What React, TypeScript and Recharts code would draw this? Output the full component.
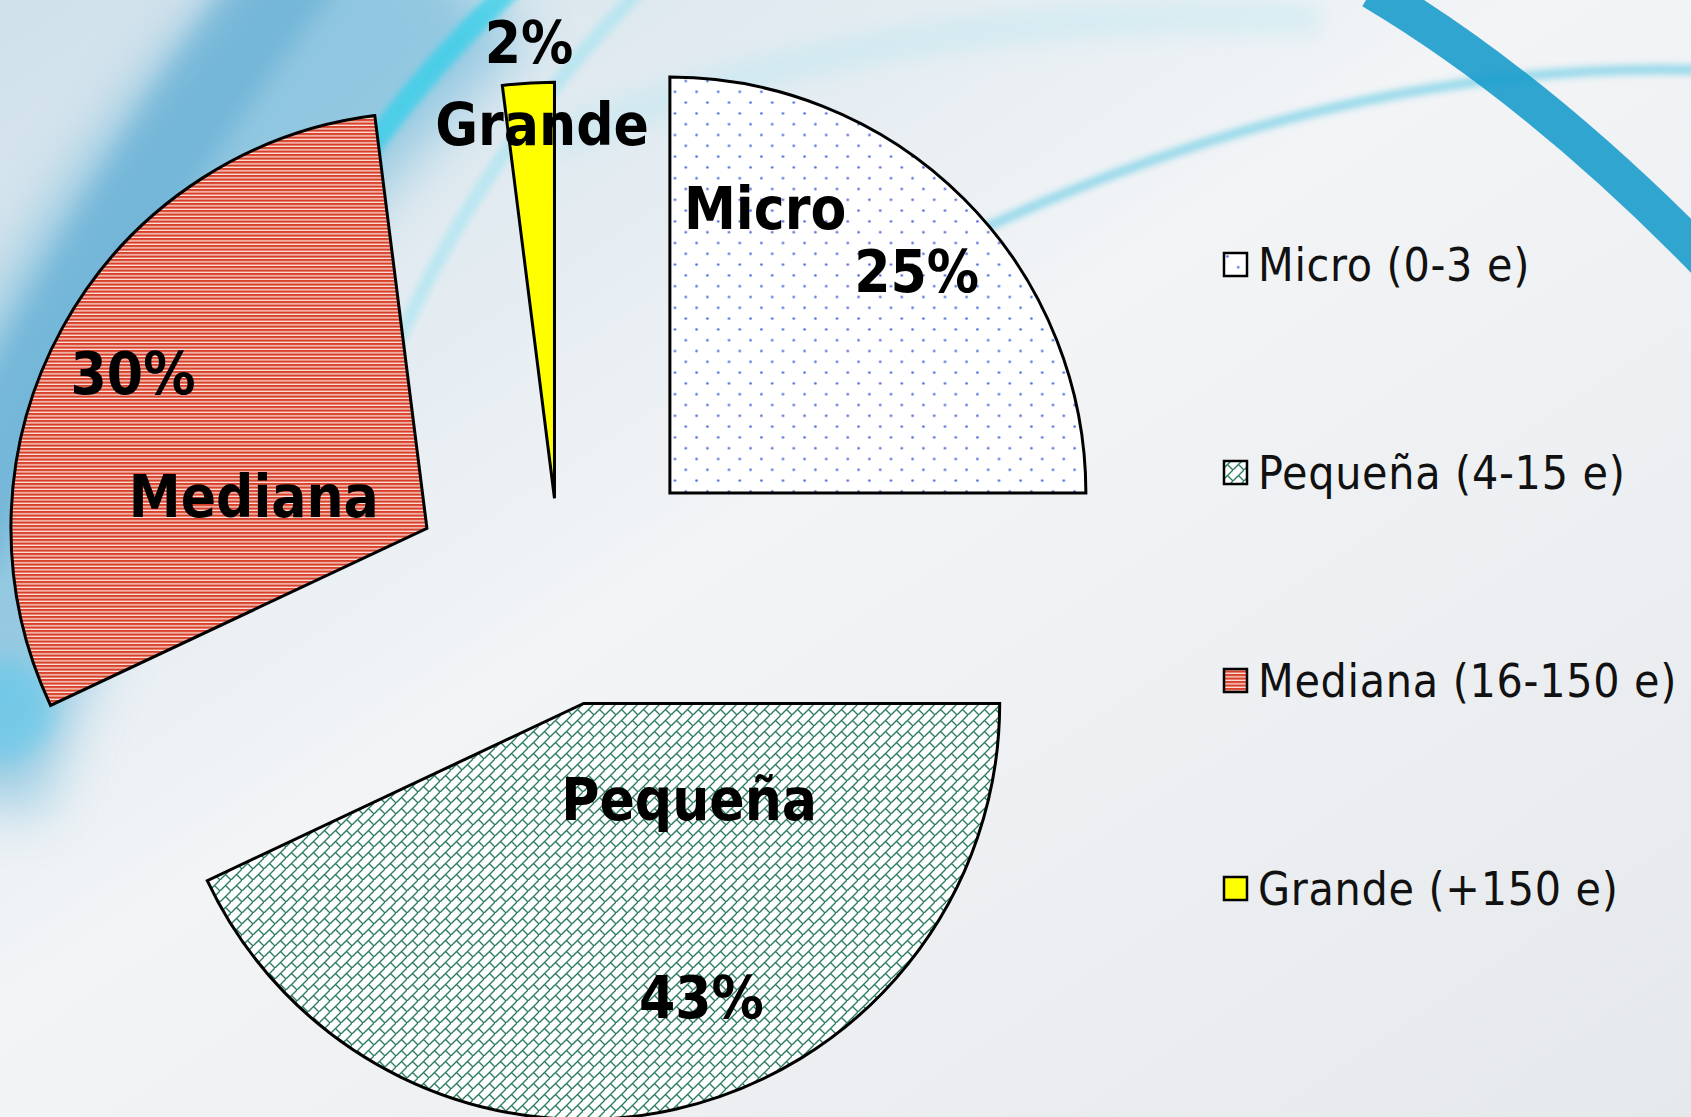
import { PieChart, Pie, Legend } from 'recharts';

// data
const categories = ['Micro', 'Pequeña', 'Mediana', 'Grande'];
const legendLabels = ['Micro (0-3 e)', 'Pequeña (4-15 e)', 'Mediana (16-150 e)', 'Grande (+150 e)'];
const shares = [25, 43, 30, 2];

// styling
const W = 1691;
const H = 1117;
const CX = 561;
const CY = 602;
const R = 416;
const fills = ['url(#dotsMicro)', 'url(#brickPeq)', 'url(#stripeMed)', '#ffff00'];
const explode = [154, 104, 153, 104];
// polar spots (degrees, px) for name / percentage relative to each slice's tip
const labelSpots = [
  { name: [71.5, 300], pct: [41.8, 331] },
  { name: [-42.5, 143], pct: [-68.2, 317] },
  { name: [169.7, 176], pct: [152.3, 332] },
  { name: [91.9, 373], pct: [93.2, 456] },
];

const FONT = '"DejaVu Sans Condensed", "DejaVu Sans", sans-serif';
const RAD = Math.PI / 180;
const total = shares.reduce((a, b) => a + b, 0);

let acc = 0;
const slices = categories.map((name, i) => {
  const start = 90 - (acc / total) * 360;
  acc += shares[i];
  const end = 90 - (acc / total) * 360;
  const mid = ((start + end) / 2) * RAD;
  return {
    name,
    legend: legendLabels[i],
    value: shares[i],
    start,
    end,
    cx: CX + explode[i] * Math.cos(mid),
    cy: CY - explode[i] * Math.sin(mid),
    fill: fills[i],
  };
});

const makeLabel = (i: number) => (props: any) => {
  const s = slices[i];
  const x0 = props.cx ?? s.cx;
  const y0 = props.cy ?? s.cy;
  const spot = labelSpots[i];
  const at = (p: number[]) => [x0 + p[1] * Math.cos(p[0] * RAD), y0 - p[1] * Math.sin(p[0] * RAD)];
  const [nx, ny] = at(spot.name);
  const [px, py] = at(spot.pct);
  const pct = Math.round((s.value / total) * 100) + '%';
  const common = {
    textAnchor: 'middle' as const,
    dominantBaseline: 'central' as const,
    fontFamily: FONT,
    fontWeight: 700,
    fontSize: 58,
    fill: '#000',
    stroke: 'none',
  };
  return (
    <g>
      <text x={nx} y={ny} {...common}>{s.name}</text>
      <text x={px} y={py} {...common}>{pct}</text>
    </g>
  );
};

function LegendBox({ payload }: any) {
  const items = [...(payload || [])].sort(
    (a: any, b: any) => legendLabels.indexOf(a.value) - legendLabels.indexOf(b.value)
  );
  return (
    <div style={{ fontFamily: FONT, fontSize: 46, color: '#111', letterSpacing: 0.7 }}>
      {items.map((it: any) => {
        const idx = legendLabels.indexOf(it.value);
        return (
          <div key={it.value} style={{ height: 208, display: 'flex', alignItems: 'center' }}>
            <svg width={28} height={28} style={{ marginRight: 8 }}>
              <rect x={2} y={2} width={23} height={23} fill={fills[idx]} stroke="#000" strokeWidth={2.5} />
            </svg>
            <span style={{ whiteSpace: 'nowrap' }}>{it.value}</span>
          </div>
        );
      })}
    </div>
  );
}

function Backdrop() {
  return (
    <svg width={W} height={H} style={{ position: 'absolute', left: 0, top: 0 }}>
      <defs>
        <linearGradient id="bgBase" x1="0" y1="0" x2="1" y2="1">
          <stop offset="0" stopColor="#cfe0ea" />
          <stop offset="0.45" stopColor="#f2f4f6" />
          <stop offset="1" stopColor="#e6e9ec" />
        </linearGradient>
        <filter id="blurBig" x="-50%" y="-50%" width="200%" height="200%">
          <feGaussianBlur stdDeviation="28" />
        </filter>
        <filter id="blurMid" x="-50%" y="-50%" width="200%" height="200%">
          <feGaussianBlur stdDeviation="12" />
        </filter>
        <filter id="blurSmall" x="-50%" y="-50%" width="200%" height="200%">
          <feGaussianBlur stdDeviation="3" />
        </filter>
        <pattern id="dotsMicro" patternUnits="userSpaceOnUse" width={21.6} height={21.6}>
          <rect width={21.6} height={21.6} fill="#ffffff" />
          <circle cx={5.4} cy={5.4} r={1.3} fill="#4f6be0" />
          <circle cx={16.2} cy={16.2} r={1.3} fill="#4f6be0" />
        </pattern>
        <pattern id="brickPeq" patternUnits="userSpaceOnUse" width={11} height={11}>
          <rect width={11} height={11} fill="#ffffff" />
          <path d="M -1 12 L 12 -1 M 5.5 5.5 L 11.5 11.5" stroke="#2a7d5f" strokeWidth={1.4} fill="none" />
        </pattern>
        <pattern id="stripeMed" patternUnits="userSpaceOnUse" width={10} height={3.5}>
          <rect width={10} height={3.5} fill="#fbe3dd" />
          <rect y={0} width={10} height={2.2} fill="#d8402a" />
        </pattern>
      </defs>
      <rect width={W} height={H} fill="url(#bgBase)" />
      <path d="M -80 780 Q 60 300 440 -50" stroke="#62b3d8" strokeWidth={250} fill="none" opacity={0.6} filter="url(#blurBig)" />
      <path d="M -50 560 Q 80 250 300 -40" stroke="#4a9fcc" strokeWidth={90} fill="none" opacity={0.4} filter="url(#blurMid)" />
      <path d="M 300 260 Q 380 110 520 -20" stroke="#2fd0ea" strokeWidth={22} fill="none" opacity={0.7} filter="url(#blurSmall)" />
      <path d="M 390 360 Q 480 150 650 -20" stroke="#8fe2f2" strokeWidth={14} fill="none" opacity={0.45} filter="url(#blurSmall)" />
      <ellipse cx={0} cy={710} rx={55} ry={50} fill="#52c8ec" opacity={0.5} filter="url(#blurMid)" />
      <path d="M 560 140 Q 900 0 1320 20" stroke="#a8e4f0" strokeWidth={30} fill="none" opacity={0.35} filter="url(#blurMid)" />
      <path d="M 1700 70 Q 1350 60 980 230" stroke="#56c6e2" strokeWidth={10} fill="none" opacity={0.55} filter="url(#blurSmall)" />
      <path d="M 1372 -10 Q 1540 90 1710 265" stroke="#1a9ccc" strokeWidth={38} fill="none" opacity={0.9} />
    </svg>
  );
}

export default function App() {
  return (
    <div style={{ position: 'absolute', left: 0, top: 0, width: W, height: H, overflow: 'hidden' }}>
      <Backdrop />
      <div style={{ position: 'absolute', left: 0, top: 0 }}>
        <PieChart width={W} height={H} margin={{ top: 0, right: 0, bottom: 0, left: 0 }}>
          {slices.map((s, i) => (
            <Pie
              key={s.name}
              data={[{ name: s.legend, value: s.value }]}
              dataKey="value"
              nameKey="name"
              cx={s.cx}
              cy={s.cy}
              innerRadius={0}
              outerRadius={R}
              startAngle={s.start}
              endAngle={s.end}
              fill={s.fill}
              stroke="#000"
              strokeWidth={3}
              label={makeLabel(i)}
              labelLine={false}
              legendType="square"
              isAnimationActive={false}
            />
          ))}
          <Legend
            layout="vertical"
            verticalAlign="top"
            align="right"
            wrapperStyle={{ left: 1222, top: 161, width: 469 }}
            content={<LegendBox />}
          />
        </PieChart>
      </div>
    </div>
  );
}
